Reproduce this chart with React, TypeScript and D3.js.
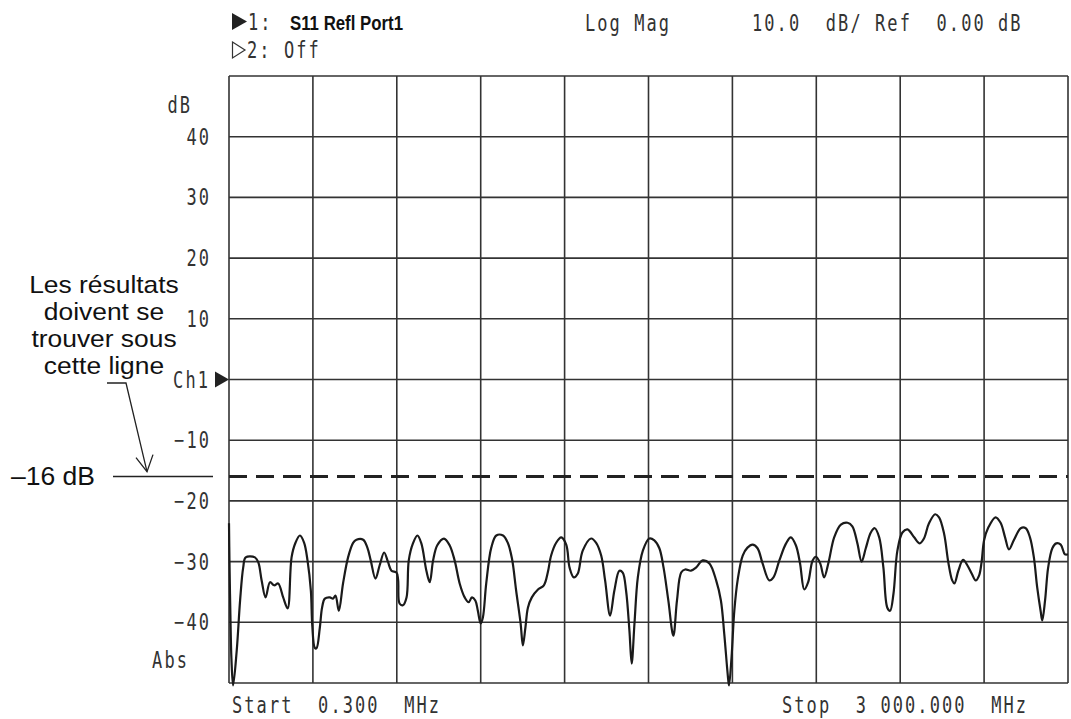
import * as d3 from "d3"

// S11 trace (MHz, dB)
const freqMHz = [
  0.3, 2, 5, 9, 15, 28, 40, 51, 60, 93,
  105, 117, 131, 147, 162, 176, 194, 210, 224, 238,
  254, 269, 281, 293, 298, 307, 313, 325, 333, 343,
  361, 372, 381, 393, 408, 426, 444, 456, 480, 495,
  507, 524, 539, 555, 569, 581, 599, 605, 610, 622,
  635, 643, 658, 674, 688, 706, 718, 730, 745, 769,
  789, 807, 825, 843, 857, 869, 881, 890, 900, 908,
  920, 938, 956, 980, 997, 1012, 1027, 1043, 1051, 1060,
  1069, 1083, 1105, 1126, 1140, 1152, 1170, 1188, 1206, 1218,
  1233, 1247, 1265, 1295, 1313, 1331, 1345, 1363, 1378, 1396,
  1408, 1420, 1432, 1440, 1450, 1462, 1480, 1503, 1521, 1539,
  1554, 1571, 1589, 1602, 1617, 1631, 1652, 1670, 1694, 1718,
  1742, 1759, 1771, 1783, 1788, 1797, 1807, 1819, 1837, 1854,
  1872, 1890, 1908, 1932, 1947, 1968, 1992, 2009, 2027, 2042,
  2057, 2071, 2087, 2099, 2114, 2128, 2144, 2164, 2188, 2212,
  2229, 2247, 2262, 2277, 2295, 2309, 2325, 2340, 2354, 2364,
  2376, 2390, 2408, 2426, 2450, 2470, 2485, 2503, 2525, 2539,
  2557, 2572, 2586, 2594, 2608, 2625, 2640, 2656, 2670, 2682,
  2691, 2700, 2715, 2741, 2759, 2775, 2789, 2807, 2831, 2849,
  2864, 2878, 2890, 2902, 2908, 2918, 2929, 2944, 2958, 2974,
  2989, 3000,
]

const s11Db = [
  -23.7, -30, -38, -46, -50.4, -44.6, -36.4, -31, -29.3, -29.3,
  -30.1, -33.1, -35.9, -33.4, -33.9, -33.6, -35.9, -37.7, -29.3, -26.9,
  -25.7, -26.9, -29.8, -34.8, -40.5, -44.2, -44.3, -40.9, -37.6, -36.1,
  -35.9, -36.1, -35.6, -38.1, -33.6, -29.3, -26.9, -26.4, -26.4, -27.7,
  -29.8, -32.8, -30.6, -28.5, -30.1, -31.5, -31.8, -33, -36.9, -37.2,
  -35.9, -29.8, -27.0, -25.7, -27.0, -31.5, -33.4, -29.8, -27.3, -26.2,
  -27.3, -29.8, -33.6, -35.9, -36.7, -35.9, -36.4, -38.1, -40.2, -39.2,
  -33.6, -27.7, -25.7, -25.7, -26.9, -29.5, -34.8, -40.2, -43.8, -40.9,
  -37.6, -35.9, -34.6, -33.9, -31.8, -29, -26.9, -26.0, -27.2, -31,
  -32.6, -32, -28.2, -26.2, -26.9, -29, -33.1, -38.9, -34.8, -31.5,
  -31.8, -34.8, -41.4, -46.8, -40.2, -32.6, -28.2, -26.2, -26.5, -27.8,
  -31, -36.4, -42.2, -36.4, -31.8, -31.3, -31.5, -31, -29.8, -30.3,
  -33.1, -36.4, -41.9, -48.4, -50.4, -45.8, -38.1, -33, -29, -27.7,
  -27.2, -27.8, -30.3, -33.1, -32.6, -29.8, -27.0, -26.0, -27.3, -30.3,
  -34.6, -33.4, -29.8, -29.2, -30.3, -32.6, -30.1, -26.0, -23.9, -23.6,
  -24.2, -27.0, -30, -27.8, -25.2, -24.5, -26.0, -31, -37.6, -38.1,
  -35.3, -28.2, -25.2, -24.7, -26.0, -27.0, -26.2, -23.7, -22.2, -22.7,
  -25.4, -30.1, -33.1, -33.6, -31.5, -29.7, -30.6, -32, -33.1, -32.3,
  -30.1, -26.5, -24.4, -22.7, -23.6, -26.0, -28.0, -26.4, -24.5, -24.5,
  -26.0, -29.3, -34.3, -38.1, -39.7, -36.4, -31, -27.8, -27.0, -27.2,
  -28.8, -28.8,
]

const dbTicks = [40, 30, 20, 10, -10, -20, -30, -40]
const limitDb = -16
const startMHz = 0.3
const stopMHz = 3000
const noteLines = ["Les résultats", "doivent se", "trouver sous", "cette ligne"]

const W = 1071
const H = 719
const left = 229
const right = 1068
const top = 76
const bottom = 683

const MONO = "'DejaVu Sans Mono', monospace"
const SANS = "'Liberation Sans', Arial, sans-serif"

// analyzer screen text: narrow glyphs on a wide monospace pitch, stretched tall
function Mono({ x, y, anchor = "start", children }: { x: number; y: number; anchor?: string; children: string }) {
  return (
    <text
      transform={`translate(${x},${y}) scale(1,1.33)`}
      fontFamily={MONO}
      fontSize={17}
      letterSpacing={2.07}
      fill="#333"
      textAnchor={anchor as any}
      style={{ whiteSpace: "pre" }}
    >
      {children}
    </text>
  )
}

export default function App() {
  const x = d3.scaleLinear().domain([startMHz, stopMHz]).range([left, right])
  const y = d3.scaleLinear().domain([-50, 50]).range([bottom, top])

  const line = d3
    .line<number>()
    .x((_, i) => x(freqMHz[i]))
    .y((d) => y(d))
    .curve(d3.curveCatmullRom.alpha(0.5))

  const xGrid = d3.range(11).map((i) => startMHz + (i * (stopMHz - startMHz)) / 10)
  const yGrid = d3.range(-50, 51, 10)
  const yLimit = y(limitDb)
  const y0 = y(0)

  return (
    <svg width={W} height={H} style={{ position: "absolute", left: 0, top: 0, background: "#fff" }}>
      {/* header */}
      <path d="M232,13 L247,21.5 L232,30 Z" fill="#222" />
      <Mono x={248} y={30}>1:</Mono>
      <text x={290} y={30} fontFamily="'Liberation Sans Narrow', 'Arial Narrow', sans-serif" fontWeight="bold" fontSize={21} textLength={113} lengthAdjust="spacingAndGlyphs" fill="#111">
        S11 Refl Port1
      </text>
      <Mono x={585} y={31}>Log Mag</Mono>
      <Mono x={752} y={31}>{"10.0  dB/ Ref  0.00 dB"}</Mono>
      <path d="M232.5,42 L245,50 L232.5,58 Z" fill="none" stroke="#333" strokeWidth={1.2} />
      <Mono x={247} y={58}>2: Off</Mono>

      {/* grid */}
      <g stroke="#333" strokeWidth={1.6}>
        {yGrid.map((v) => (
          <line key={"h" + v} x1={left} x2={right} y1={y(v)} y2={y(v)} />
        ))}
        {xGrid.map((f, i) => (
          <line key={"v" + i} x1={x(f)} x2={x(f)} y1={top} y2={bottom} />
        ))}
      </g>

      {/* y labels */}
      <Mono x={192} y={113} anchor="end">dB</Mono>
      {dbTicks.map((v) => (
        <Mono key={v} x={211} y={y(v) + 8} anchor="end">
          {v < 0 ? "\u2212" + Math.abs(v) : String(v)}
        </Mono>
      ))}
      <Mono x={210} y={y0 + 8} anchor="end">Ch1</Mono>
      <path d={`M215,${y0 - 8} L${left},${y0} L215,${y0 + 8} Z`} fill="#222" />
      <Mono x={189} y={668} anchor="end">Abs</Mono>

      {/* limit line */}
      <line x1={left} x2={right} y1={yLimit} y2={yLimit} stroke="#222" strokeWidth={3} strokeDasharray="18,9" />
      <line x1={113} x2={213} y1={yLimit} y2={yLimit} stroke="#222" strokeWidth={1.5} />
      <text x={11} y={yLimit + 8} fontFamily={SANS} fontSize={26.5} fill="#111">
        {"\u201316 dB"}
      </text>

      {/* note */}
      <g transform="translate(104,293) scale(1.1,1)">
        {noteLines.map((t, i) => (
          <text key={t} x={0} y={i * 26.9} fontFamily={SANS} fontSize={24} textAnchor="middle" fill="#111">
            {t}
          </text>
        ))}
      </g>
      <path d={`M107,383 L126,383 L147,${yLimit - 5}`} fill="none" stroke="#222" strokeWidth={1.3} />
      <path d={`M136,${yLimit - 19} L147,${yLimit - 5} L153,${yLimit - 22}`} fill="none" stroke="#222" strokeWidth={1.3} />

      {/* trace */}
      <path d={line(s11Db) || ""} fill="none" stroke="#1a1a1a" strokeWidth={2.2} strokeLinejoin="round" />

      {/* footer */}
      <Mono x={232} y={713}>{"Start  0.300  MHz"}</Mono>
      <Mono x={782} y={713}>{"Stop  3 000.000  MHz"}</Mono>
    </svg>
  )
}
